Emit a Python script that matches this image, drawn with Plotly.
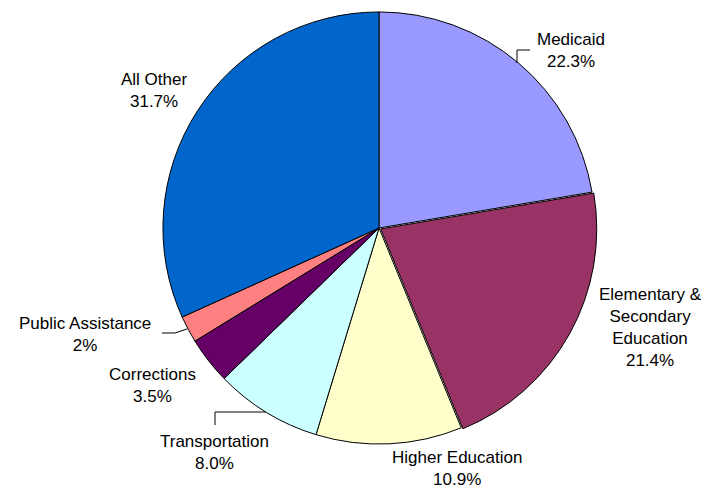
import plotly.graph_objects as go

W, H = 713, 485
OFF = 8  # page body margin offset in the browser

categories = ["Medicaid", "Elementary &<br>Secondary<br>Education", "Higher Education",
              "Transportation", "Corrections", "Public Assistance", "All Other"]
values = [22.3, 21.4, 10.9, 8.0, 3.5, 2.0, 31.7]
value_labels = ["22.3%", "21.4%", "10.9%", "8.0%", "3.5%", "2%", "31.7%"]
colors = ["#9999FF", "#993366", "#FFFFCC", "#CCFFFF", "#660066", "#FF8080", "#0066CC"]
pulls = [0, 0.009, 0, 0, 0, 0, 0]

# label centre positions in screen pixels
label_px = [(571, 50.5), (650, 327.5), (456.5, 468), (214.5, 452), (152.5, 385), (85, 334), (154, 90)]

def px(x):
    return (x - OFF) / W

def py(y):
    return 1 - (y - OFF) / H

cx, cy, r = 379, 228, 218
fig = go.Figure(go.Pie(
    labels=categories, values=values, sort=False, direction="clockwise", rotation=0,
    marker=dict(colors=colors, line=dict(color="black", width=1)),
    pull=pulls, textinfo="none", hoverinfo="label+percent", showlegend=False,
    domain=dict(x=[px(cx - r), px(cx + r)], y=[py(cy + r), py(cy - r)]),
))

for cat, vl, (x, y) in zip(categories, value_labels, label_px):
    fig.add_annotation(x=px(x), y=py(y), xref="paper", yref="paper",
                       text=f"{cat}<br>{vl}", showarrow=False,
                       xanchor="center", yanchor="middle", align="center",
                       font=dict(family="Liberation Sans, Arial", size=17, color="black"))

leaders = [
    [(517, 63), (517, 50), (530, 50)],
    [(266, 412), (215, 412), (215, 425)],
    [(187, 329), (175, 333), (162, 333)],
]
for pts in leaders:
    path = "M " + " L ".join(f"{px(a)},{py(b)}" for a, b in pts)
    fig.add_shape(type="path", path=path, xref="paper", yref="paper",
                  line=dict(color="black", width=1))

fig.update_layout(width=W, height=H, margin=dict(l=0, r=0, t=0, b=0),
                  paper_bgcolor="white", plot_bgcolor="white")
fig.write_html("out.html")
